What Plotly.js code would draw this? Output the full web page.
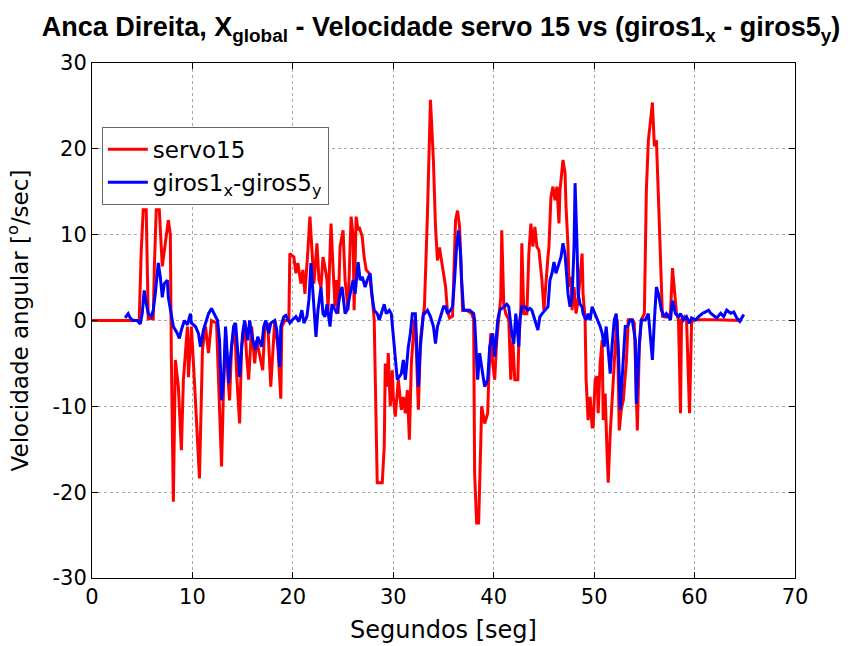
<!DOCTYPE html>
<html>
<head>
<meta charset="utf-8">
<script src="https://cdn.plot.ly/plotly-3.0.1.min.js"></script>
<style>html,body{margin:0;padding:0;background:#fff;}#plot{width:848px;height:646px;}</style>
</head>
<body>
<div id="plot"></div>
<script>
// servo15 (red)
const servoT = [0,4.7,4.9,5.1,5.4,5.5,5.6,6.1,6.2,6.4,6.7,7.0,7.3,7.6,7.8,7.9,8.1,8.3,8.6,8.9,9.1,9.5,9.6,9.9,10.3,10.7,11.0,11.3,11.6,11.9,12.4,12.7,12.9,13.1,13.3,13.6,13.7,13.9,14.2,14.4,14.7,14.9,15.2,15.4,15.6,15.9,16.2,16.4,16.7,17.0,17.2,17.5,17.8,18.0,18.2,18.5,18.8,18.9,19.2,19.6,19.7,20.1,20.3,20.5,20.8,21.0,21.2,21.5,21.7,21.9,22.1,22.4,22.6,22.8,23.0,23.2,23.4,23.5,23.8,24.0,24.2,24.3,24.5,24.7,25.0,25.2,25.5,25.7,25.8,26.0,26.1,26.3,26.5,26.6,26.9,27.1,27.3,27.6,27.9,28.1,28.3,28.4,28.9,29.1,29.2,29.4,29.5,29.7,29.9,30.0,30.2,30.5,30.8,31.0,31.2,31.4,31.6,31.8,32.1,32.2,32.5,32.7,33.0,33.1,33.4,33.7,33.8,34.0,34.2,34.4,34.6,34.8,35.0,35.2,35.4,35.6,35.9,36.2,36.4,36.6,36.8,36.9,37.3,37.8,38.0,38.1,38.3,38.5,38.7,38.8,39.1,39.4,39.5,39.7,39.9,40.1,40.3,40.5,40.7,40.8,41.0,41.2,41.5,41.7,41.9,42.1,42.4,42.5,42.7,42.8,43.0,43.3,43.5,43.7,43.9,44.1,44.3,44.5,44.7,44.8,45.0,45.2,45.4,45.5,45.7,45.9,46.1,46.3,46.5,46.6,46.9,47.1,47.2,47.4,47.5,47.7,47.8,48.0,48.2,48.4,48.7,48.8,48.9,49.1,49.2,49.4,49.6,49.8,49.9,50.1,50.3,50.4,50.6,50.8,50.9,51.1,51.3,51.4,51.6,51.8,51.9,52.1,52.3,52.5,52.7,52.9,53.2,53.4,53.8,54.0,54.3,54.5,54.7,55.0,55.2,55.4,55.7,55.8,56.0,56.2,56.4,56.6,56.8,57.2,57.6,57.8,58.0,58.2,58.4,58.6,58.7,59.0,59.2,59.5,59.7,59.9,60.5,62.0,64.7];
const servoV = [0,0,8,12.9,12.9,6,0.2,0.2,6,12.9,12.9,6.3,9,11.7,10,-4.2,-21.1,-4.6,-7.7,-15.1,-6.9,-0.7,-6.6,-0.7,-9.3,-18.4,-3.4,-0.7,-3.8,0,-0.3,-9.7,-17.0,-7.7,-1.5,-7.7,-9.3,-3.0,-0.3,-6.2,-12.0,-3.0,-0.3,-4.2,-6.9,-0.7,-5.0,-2.3,-4.2,-5.8,-0.7,-0.3,-7.7,-4.2,0,-3.0,-9.1,-0.7,0,0,7.8,7.4,5.5,6.7,4.3,5.9,3.1,8.2,12.1,8.2,4.3,9.0,4.7,3.9,7.4,6.2,4.7,1.2,11.3,6.2,1.6,4.7,0.8,8.6,10.5,4.7,1.2,8.6,12.1,9.8,1.2,12.1,10.5,10.9,9.8,7.4,5.9,5.5,2.7,0.1,-14.7,-18.9,-18.9,-14.7,-5.0,-7.7,-3.8,-10.0,-5.8,-8.9,-11.2,-6.9,-10.4,-8.9,-10.8,-8.1,-13.9,-5.0,0.1,-0.3,-10.4,-2.3,0.8,1.6,12.3,25.7,23.4,18.5,11,7,8.5,7,6,4,1,0.3,0.5,11.7,12.8,10.9,4.7,1.2,1.2,0.8,0.1,-17.8,-23.6,-23.6,-14.7,-10.0,-12.0,-10.8,-6.9,-1.5,-5.0,-6.9,-2.3,0.1,2.7,10.5,1.9,0.8,0.1,-6.9,-2.3,-6.9,-6.9,-2.3,1.2,9.0,0.8,0.8,7.8,11.3,8.6,10.9,8.6,8.2,6.2,4.7,1.2,4.7,7.4,8.6,14.4,15.6,14.0,15.6,11.3,15.2,18.7,17.2,13.3,8.6,3.9,5.1,1.2,3.9,0.8,2.3,6.2,7.8,3.1,0.1,-6.9,-11.6,-8.9,-12.4,-12.4,-6.9,-6.5,-10.8,-5.0,-2.3,-11.6,-8.5,-15.9,-18.9,-13.2,-8.9,-6.9,-3.0,0.1,-12.8,-10.4,-9.3,-5.0,0.1,0.1,-0.3,-12.8,-3.0,0.1,0.8,15.2,21.0,24.2,25.4,20.3,21.0,14.4,7,0.5,0.4,0.8,6.1,3.1,0.8,0.1,-10.8,0.1,0.45,0.1,-10.8,-0.3,0.1,0.1,0.1,0];

// giros1x - giros5y (blue)
const girosT = [3.3,3.6,3.8,4.1,4.5,4.8,5.0,5.2,5.4,5.6,5.9,6.1,6.3,6.6,6.8,7.0,7.2,7.5,7.6,7.9,8.1,8.5,8.7,8.9,9.2,9.5,9.8,9.9,10.3,10.6,10.8,11.1,11.3,11.6,11.9,12.2,12.5,12.7,12.9,13.1,13.3,13.5,13.6,13.8,14.1,14.3,14.5,14.7,15.0,15.2,15.5,15.7,16.0,16.3,16.5,16.9,17.1,17.3,17.6,17.8,18.2,18.4,18.7,18.8,19.1,19.3,19.7,19.9,20.3,20.6,20.9,21.1,21.4,21.6,21.8,22.0,22.3,22.5,22.8,23.0,23.2,23.4,23.7,23.9,24.2,24.4,24.7,24.9,25.2,25.4,25.7,26.0,26.2,26.4,26.5,26.7,26.9,27.2,27.4,27.7,27.9,28.1,28.4,28.6,28.9,29.1,29.3,29.6,29.8,30.0,30.2,30.4,30.8,31.0,31.2,31.5,31.7,31.9,32.2,32.5,32.7,33.0,33.1,33.4,33.7,34.0,34.2,34.4,34.7,35.0,35.2,35.4,35.7,35.9,36.1,36.3,36.5,36.7,36.8,37.0,37.3,37.6,38.0,38.1,38.4,38.6,38.9,39.1,39.4,39.6,39.9,40.1,40.4,40.6,41.0,41.3,41.5,41.8,42.0,42.2,42.5,42.6,42.8,43.1,43.4,43.6,43.8,44.1,44.4,44.6,44.8,45.1,45.4,45.6,45.8,46.0,46.2,46.4,46.7,46.9,47.1,47.3,47.4,47.6,47.8,48.0,48.1,48.3,48.4,48.6,48.8,48.9,49.2,49.4,49.6,49.8,50.1,50.3,50.6,50.8,51.0,51.2,51.4,51.6,51.8,52.0,52.2,52.4,52.6,52.9,53.1,53.3,53.6,53.8,54.1,54.2,54.5,54.7,55.1,55.4,55.6,55.8,56.0,56.2,56.4,56.7,57.0,57.2,57.6,57.8,58.1,58.4,58.6,58.9,59.2,59.5,59.7,60.1,60.4,60.8,61.1,61.4,61.6,61.9,62.2,62.6,62.9,63.2,63.6,63.9,64.2,64.5,64.9];
const girosV = [0.3,0.8,0.3,0,0,-0.4,0.8,3.5,2.0,0.8,0.45,1.2,3.1,6.7,5.1,2.7,4.3,4.7,2.7,0.45,-0.7,-1.5,-2.1,-1.1,0,-0.5,0.8,-0.3,-0.7,-1.5,-3.05,-1.1,-0.3,0.8,1.4,0.6,0,-2.3,-9.3,-6.9,-0.7,-4.6,-7.3,-4.2,-0.7,-0.3,-3.8,-6.6,-1.5,0,-2.3,0,-2.3,-3.4,-1.9,-3.05,-0.7,0,-1.5,-0.3,0,-1.1,-5.4,-0.7,0.45,0.6,-0.3,0,0.45,-0.13,1.2,-0.3,0.45,2.4,6.7,3.1,-1.9,1.2,3.9,0.8,0.45,1.9,-0.7,1.9,1.2,0.8,3.1,3.9,0.8,1.2,3.1,4.7,3.1,6.2,6.8,4.7,5.1,3.9,4.7,5.5,2.7,1.2,0.8,0.06,1.2,1.9,0.8,1.2,0.8,-1.9,-5.0,-6.9,-6.2,-4.6,-6.9,-3.05,-1.5,0.8,0.8,-7.7,-3.05,0.8,0.8,1.2,0.45,-0.7,-2.7,-0.7,0.45,1.6,1.6,0.8,1.2,1.6,4.7,8.6,10.5,7.8,4.7,1.2,1.2,1.2,0.8,0.06,-6.9,-3.8,-6.2,-7.7,-6.9,-3.05,-1.5,-4.2,0.06,1.2,1.6,1.9,1.6,-1.5,-2.7,0.8,-3.05,0.06,1.6,1.6,1.2,1.4,1.2,0.06,-1.1,0.45,0.8,1.2,1.6,4.7,5.5,6.8,5.5,6.2,7.4,9.0,7.8,4.7,3.1,1.6,2.7,8.6,16.0,8.6,3.1,1.9,1.6,0.8,0.06,0.8,0.06,1.6,0.8,0.06,-0.7,-1.5,-3.05,-0.7,-3.05,-6.2,-2.7,0.06,0.8,-3.05,-10.4,-3.8,-0.7,-0.7,0.06,0.06,-2.3,-9.7,-2.7,0.06,0.06,0.8,-1.5,-4.6,0.06,3.9,3.1,1.2,0.45,0.8,0.06,2.3,0.8,0.45,0.8,0.06,0.45,-0.33,0.3,0.06,0.45,0.84,1.0,1.2,0.84,0.6,0.3,0.84,0.45,1.2,0.84,1.0,0.3,-0.1,0.7];

const xTicks = [0,10,20,30,40,50,60,70];
const yTicks = [-30,-20,-10,0,10,20,30];

const titleFont = 'Liberation Sans, Arial, Helvetica, sans-serif';
const font = 'DejaVu Sans, Verdana, sans-serif';

const traces = [
  {x: servoT, y: servoV, type: 'scatter', mode: 'lines', name: 'servo15',
   line: {color: '#ff0000', width: 3}},
  {x: girosT, y: girosV, type: 'scatter', mode: 'lines', name: 'giros1<sub>x</sub>-giros5<sub>y</sub>',
   line: {color: '#0000ff', width: 3}}
];

const axisCommon = {
  showline: true, linecolor: '#000', linewidth: 1, mirror: 'ticks',
  ticks: 'inside', ticklen: 6, tickcolor: '#000',
  showgrid: true, gridcolor: '#a8a8a8', griddash: 'dot', gridwidth: 1,
  zeroline: false, tickfont: {family: font, size: 21, color: '#000'}
};

const layout = {
  width: 848, height: 646,
  paper_bgcolor: '#fff', plot_bgcolor: '#fff',
  margin: {l: 92, r: 53, t: 63, b: 68},
  showlegend: true,
  title: {
    text: '<b>Anca Direita, X<sub>global</sub> - Velocidade servo 15 vs (giros1<sub>x</sub> - giros5<sub>y</sub>)</b>',
    font: {family: titleFont, size: 27, color: '#000'},
    x: 0.52, xanchor: 'center', y: 0.959, yanchor: 'middle'
  },
  xaxis: Object.assign({}, axisCommon, {
    range: [0, 70], tickvals: xTicks, ticktext: xTicks.map(String),
    title: {text: 'Segundos [seg]', font: {family: font, size: 24, color: '#000'}, standoff: 12}
  }),
  yaxis: Object.assign({}, axisCommon, {
    range: [-30, 30], tickvals: yTicks, ticktext: yTicks.map(String),
    title: {text: 'Velocidade angular [<sup>o</sup>/sec]', font: {family: font, size: 23, color: '#000'}, standoff: 17}
  }),
  legend: {
    x: 0.014, y: 0.876, xanchor: 'left', yanchor: 'top',
    bgcolor: '#fff', bordercolor: '#666', borderwidth: 1,
    font: {family: font, size: 23, color: '#000'},
    tracegroupgap: 0, itemwidth: 40
  }
};

Plotly.newPlot('plot', traces, layout, {displayModeBar: false, staticPlot: true});
</script>
</body>
</html>
